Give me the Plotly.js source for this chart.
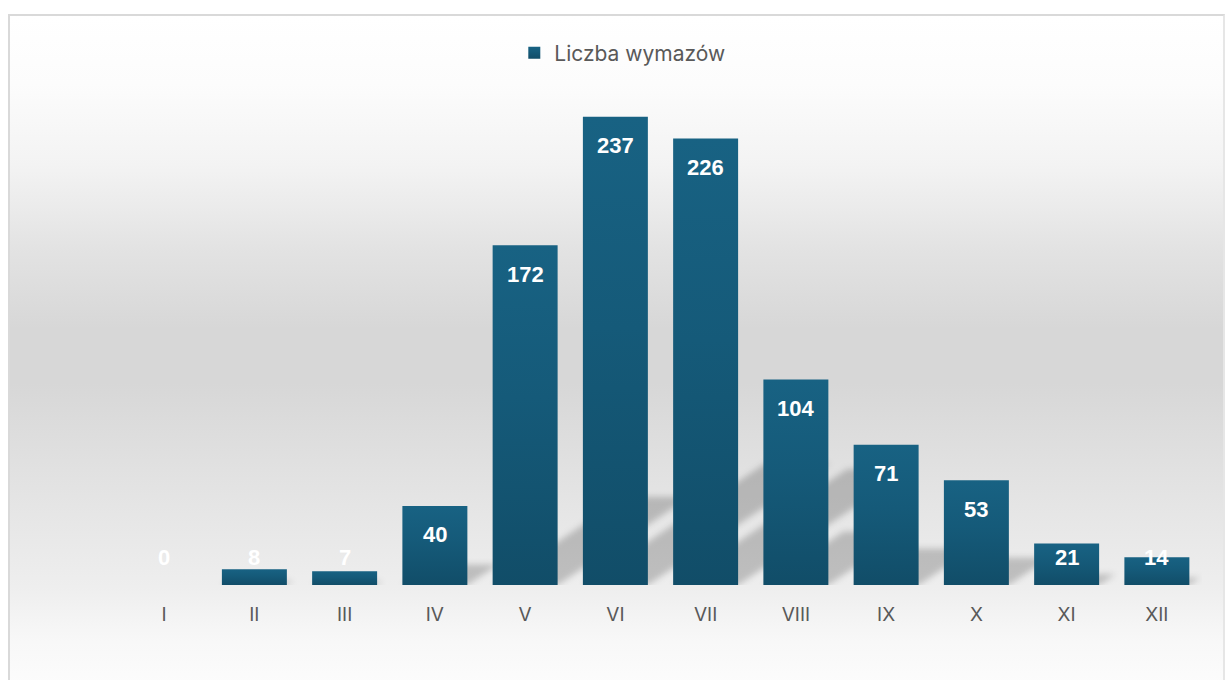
<!DOCTYPE html>
<html>
<head>
<meta charset="utf-8">
<script src="https://cdn.plot.ly/plotly-3.0.1.min.js"></script>
<style>
  html, body { margin:0; padding:0; width:1225px; height:680px; overflow:hidden; background:#ffffff; }
  #bg { position:absolute; left:8px; top:14px; width:1213px; height:680px;
        border-left:2px solid #d9d9d9; border-top:2px solid #d9d9d9; border-right:2px solid #e6e6e6;
        background: linear-gradient(to bottom, #ffffff 0%, #fcfcfc 10%, #f3f3f3 22%, #e3e3e3 34%, #d7d7d7 46%, #d7d7d7 54%, #e2e2e2 68%, #eeeeee 84%, #f8f8f8 92%, #fdfdfd 100%); }
  #chart { position:absolute; left:0; top:0; width:1225px; height:680px; }
</style>
</head>
<body>
<div id="bg"></div>
<div id="chart"></div>
<script>
const months = ['I','II','III','IV','V','VI','VII','VIII','IX','X','XI','XII'];
const counts = [0, 8, 7, 40, 172, 237, 226, 104, 71, 53, 21, 14];
const seriesName = 'Liczba wymazów';

// labels sit inside the bar top; short bars keep the label just above the baseline
const minInsideValue = 29;
const labelFont = {family:'Liberation Sans, Arial, sans-serif', size:22, color:'#ffffff'};
const annotations = months.map((m, i) => {
  const inside = counts[i] >= minInsideValue;
  return {
    x: m, y: inside ? counts[i] : 0, xref:'x', yref:'y',
    text: '<b>' + counts[i] + '</b>',
    showarrow:false, yanchor:'middle', xanchor:'center',
    yshift: inside ? -29 : 28,
    font: labelFont
  };
});

const data = [{
  type:'bar', x: months, y: counts, name: seriesName,
  marker:{color:'#155a79', line:{width:0}},
  hoverinfo:'none'
}];

const axisFont = {family:'Inter, Roboto, sans-serif', size:19, color:'#595959'};
const layout = {
  width:1225, height:680,
  margin:{l:119, r:23, t:91, b:95, pad:0},
  paper_bgcolor:'rgba(0,0,0,0)', plot_bgcolor:'rgba(0,0,0,0)',
  bargap:0.28,
  showlegend:true,
  legend:{orientation:'h', xref:'container', yref:'container', x:0.508, y:0.922,
          xanchor:'center', yanchor:'middle',
          font:{family:'Inter, Roboto, sans-serif', size:21, color:'#595959'},
          bgcolor:'rgba(0,0,0,0)'},
  xaxis:{type:'category', showline:false, showgrid:false, zeroline:false,
         ticks:'outside', ticklen:12, tickcolor:'rgba(0,0,0,0)',
         tickfont:axisFont},
  yaxis:{range:[0,250], visible:false, showgrid:false, zeroline:false},
  annotations: annotations
};

let decorated = false;
function decorate(gd) {
  if (decorated) return;
  const NS = 'http://www.w3.org/2000/svg';
  const svg = gd.querySelector('svg.main-svg');
  if (!svg) return;
  const bars = gd.querySelectorAll('.barlayer path');
  if (!bars.length) return;
  decorated = true;
  let defs = svg.querySelector('defs');
  if (!defs) { defs = document.createElementNS(NS,'defs'); svg.insertBefore(defs, svg.firstChild); }
  const grad = document.createElementNS(NS,'linearGradient');
  grad.setAttribute('id','barGrad');
  grad.setAttribute('x1','0'); grad.setAttribute('y1','0');
  grad.setAttribute('x2','0'); grad.setAttribute('y2','1');
  [['0%','#186283'],['45%','#155a79'],['100%','#114d68']].forEach(([o,c]) => {
    const s = document.createElementNS(NS,'stop');
    s.setAttribute('offset',o); s.setAttribute('stop-color',c);
    grad.appendChild(s);
  });
  defs.appendChild(grad);
  const filt = document.createElementNS(NS,'filter');
  filt.setAttribute('id','shBlur');
  filt.setAttribute('x','-50%'); filt.setAttribute('y','-50%');
  filt.setAttribute('width','200%'); filt.setAttribute('height','200%');
  const blur = document.createElementNS(NS,'feGaussianBlur');
  blur.setAttribute('stdDeviation','3');
  filt.appendChild(blur);
  defs.appendChild(filt);

  const shadowGroup = document.createElementNS(NS,'g');
  shadowGroup.setAttribute('filter','url(#shBlur)');
  bars.forEach(p => {
    p.style.setProperty('fill','url(#barGrad)');
    p.setAttribute('fill','url(#barGrad)');
    let b;
    try { b = p.getBBox(); } catch(e) { return; }
    if (!b || b.height < 0.5) return;
    const h = 0.26 * b.height;
    const yb = b.y + b.height;
    const x0 = b.x, x1 = b.x + b.width;
    const poly = document.createElementNS(NS,'polygon');
    poly.setAttribute('points',
      `${x0},${yb} ${x1},${yb} ${x1 + 1.5*h},${yb - h} ${x0 + 1.5*h},${yb - h}`);
    poly.setAttribute('fill','rgba(0,0,0,0.2)');
    shadowGroup.appendChild(poly);
  });
  const layer = gd.querySelector('.barlayer');
  if (layer) layer.insertBefore(shadowGroup, layer.firstChild);
  gd.querySelectorAll('.legend .legendpoints path').forEach(p => {
    p.style.setProperty('fill','url(#barGrad)');
  });
}

const gdEl = document.getElementById('chart');
const prom = Plotly.newPlot(gdEl, data, layout, {staticPlot:true, displayModeBar:false});
try { decorate(gdEl); } catch(e) { console.error(e); }
if (prom && prom.then) prom.then(gd => { try { decorate(gd); } catch(e) { console.error(e); } });
</script>
</body>
</html>
